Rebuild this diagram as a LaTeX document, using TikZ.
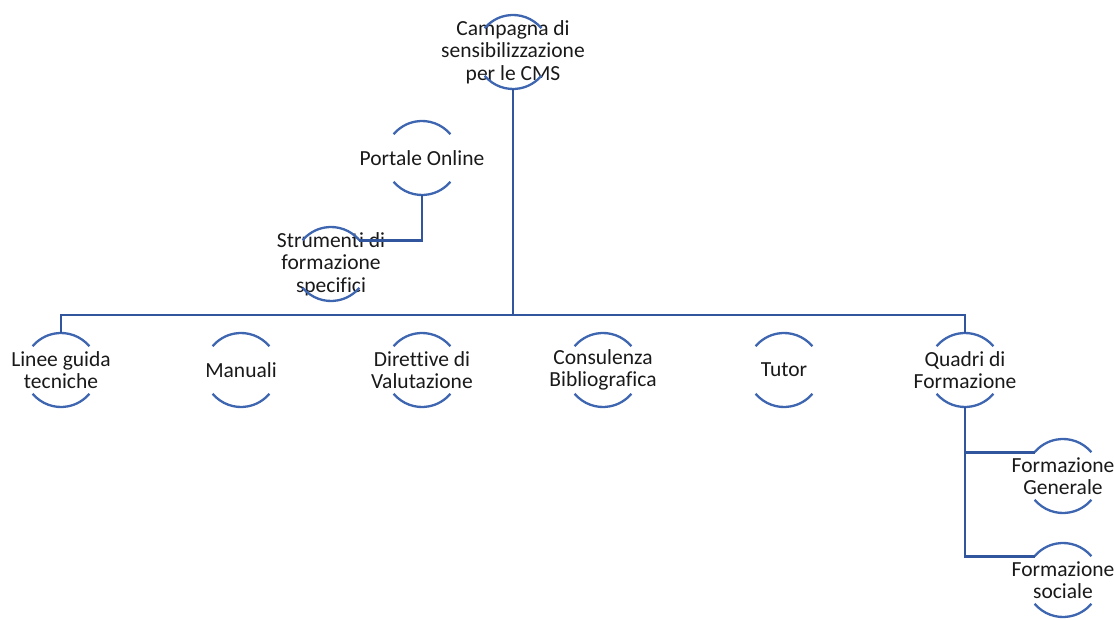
\documentclass[tikz,border=0pt]{standalone}
\usepackage{fontspec}
\setmainfont{Carlito}[Ligatures={NoCommon}]
\usetikzlibrary{calc}
\definecolor{linecol}{RGB}{50,86,158}
\definecolor{arccol}{RGB}{62,102,176}
\begin{document}
\begin{tikzpicture}[x=1pt,y=1pt,
  lbl/.style={inner sep=0pt, align=center, text=black!90,
    font=\fontsize{21.5pt}{22.5pt}\selectfont},
  conn/.style={draw=linecol, line width=2.8pt},
  arcst/.style={draw=arccol, line width=2.3pt}]
\useasboundingbox (0,0) rectangle (1114,619);
\def\R{37}
% nodes (y = 619 - image y)
\node[lbl] (top) at (513,567) {Campagna di\\sensibilizzazione\\per le CMS};
\node[lbl] (por) at (422,461) {Portale Online};
\node[lbl] (str) at (331,355) {Strumenti di\\formazione\\specifici};
\node[lbl] (lin) at (61,249) {Linee guida\\tecniche};
\node[lbl] (man) at (241,249) {Manuali};
\node[lbl] (dir) at (422,249) {Direttive di\\Valutazione};
\node[lbl] (con) at (603,249) {Consulenza\\Bibliografica};
\node[lbl] (tut) at (784,249) {Tutor};
\node[lbl] (qua) at (965,249) {Quadri di\\Formazione};
\node[lbl] (fge) at (1063,143) {Formazione\\Generale};
\node[lbl] (fso) at (1063,39) {Formazione\\sociale};
% arcs
\foreach \n in {top,por,str,lin,man,dir,con,tut,qua,fge,fso}{
  \draw[arcst] ($(\n.center)+(40:\R)$) arc[start angle=40,end angle=140,radius=\R];
  \draw[arcst] ($(\n.center)+(220:\R)$) arc[start angle=220,end angle=320,radius=\R];
}
% named coordinates
\coordinate (bus) at ($(top.center)+(0,-263)$);
% connectors
\draw[conn] ($(top.center)+(0,-\R)$) -- (bus);
\draw[conn] ($(lin.center)+(0,\R)$) |- (bus);
\draw[conn] ($(qua.center)+(0,\R)$) |- (bus);
\foreach \n in {man,dir,con,tut}{
  \draw[conn] ($(\n.center)+(0,\R)$) -- ($(\n.center)+(0,\R)$ |- bus);
}
\draw[conn] ($(por.center)+(40:\R)$) -- ($(por.center)+(40:\R)$ -| bus);
\draw[conn] ($(por.center)+(0,-\R)$) |- ($(str.center)+(40:\R)$);
\draw[conn] ($(qua.center)+(0,-\R)$) |- ($(fge.center)+(140:\R)$);
\draw[conn] ($(qua.center)+(0,-\R)$) |- ($(fso.center)+(140:\R)$);
\end{tikzpicture}
\end{document}
